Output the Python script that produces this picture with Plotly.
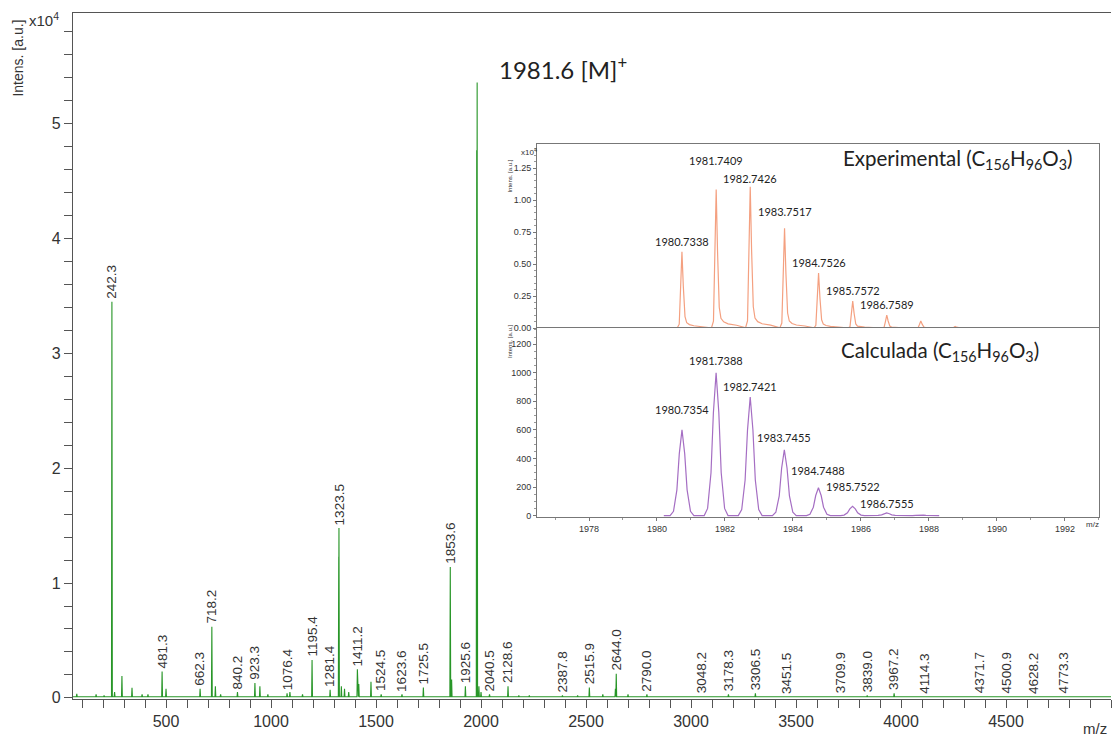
import plotly.graph_objects as go

# ---------------- main spectrum data (intensity in units of 1e4) ----------------
label_mz = [242.3, 481.3, 662.3, 718.2, 840.2, 923.3, 1076.4, 1195.4, 1281.4, 1323.5,
            1411.2, 1524.5, 1623.6, 1725.5, 1853.6, 1925.6, 2040.5, 2128.6, 2387.8,
            2515.9, 2644.0, 2790.0, 3048.2, 3178.3, 3306.5, 3451.5, 3709.9, 3839.0,
            3967.2, 4114.3, 4371.7, 4500.9, 4628.2, 4773.3]
label_int = [3.45, 0.23, 0.08, 0.62, 0.05, 0.13, 0.04, 0.33, 0.07, 1.48,
             0.25, 0.03, 0.03, 0.09, 1.14, 0.10, 0.03, 0.10, 0.02,
             0.09, 0.21, 0.03, 0.01, 0.03, 0.04, 0.01, 0.01, 0.02,
             0.04, 0.01, 0.01, 0.01, 0.01, 0.01]

main_peak_mz = 1981.6
main_peak_int = 5.36

other_mz = [75, 167, 205, 255, 290, 338, 386, 414, 500, 735, 760, 985, 947, 1090,
            1150, 1322.5, 1335, 1350, 1370, 1418, 1476, 1860, 1979.5, 1990, 2000,
            2180, 2230, 2580, 2640, 2700, 2460, 3370]
other_int = [0.035, 0.03, 0.02, 0.05, 0.19, 0.087, 0.03, 0.03, 0.08, 0.10, 0.03, 0.03, 0.10, 0.05,
             0.03, 1.23, 0.10, 0.08, 0.05, 0.12, 0.14, 0.16, 4.77, 0.10, 0.05,
             0.02, 0.02, 0.03, 0.08, 0.03, 0.02, 0.015]

# ---------------- inset data ----------------
exp_mz = [1980.7338, 1981.7409, 1982.7426, 1983.7517, 1984.7526, 1985.7572, 1986.7589, 1987.76, 1988.77]
exp_int = [0.595, 1.083, 1.104, 0.78, 0.43, 0.21, 0.10, 0.055, 0.012]   # x1e4
exp_labels = ["1980.7338", "1981.7409", "1982.7426", "1983.7517", "1984.7526", "1985.7572", "1986.7589"]

calc_mz = [1980.7354, 1981.7388, 1982.7421, 1983.7455, 1984.7488, 1985.7522, 1986.7555, 1987.76]
calc_int = [600, 1000, 830, 460, 195, 65, 18, 4]
calc_labels = ["1980.7354", "1981.7388", "1982.7421", "1983.7455", "1984.7488", "1985.7522", "1986.7555"]

# peak shapes (offset in m/z, relative height)
exp_shape_dx = [-0.14, -0.08, -0.04, 0.0, 0.04, 0.09, 0.14, 0.22, 0.35, 0.6, 0.9]
exp_shape_rel = [0.0, 0.05, 0.5, 1.0, 0.55, 0.15, 0.07, 0.045, 0.03, 0.02, 0.0]
calc_shape_dx = [-0.35, -0.25, -0.15, -0.08, 0.0, 0.08, 0.15, 0.25, 0.35]
calc_shape_rel = [0.0, 0.05, 0.3, 0.72, 1.0, 0.72, 0.3, 0.05, 0.0]

GREEN = "rgb(40,150,40)"
ORANGE = "rgb(244,160,128)"
PURPLE = "rgb(165,110,195)"
AX = "#555555"
TXT = "#333333"
FONT = "Liberation Sans, Arial, sans-serif"
CAL = "Lato, Open Sans, sans-serif"

# ---- build main stick spectrum
XMIN, XMAX = 57, 5000
BASE = 0.01
allp = sorted(list(zip(label_mz, label_int)) + [(main_peak_mz, main_peak_int)] + list(zip(other_mz, other_int)))
mx, my = [XMIN], [BASE]
for m, h in allp:
    mx += [m - 2, m, m + 2]
    my += [BASE, h, BASE]
mx.append(XMAX)
my.append(BASE)

# ---- inset curves
def profile(centers, heights, dx, rel, start, end):
    xs, ys = [start], [0.0]
    for c, h in zip(centers, heights):
        for d, r in zip(dx, rel):
            xs.append(c + d)
            ys.append(h * r)
    xs.append(end)
    ys.append(0.0)
    return xs, ys

ex, ey = profile(exp_mz, exp_int, exp_shape_dx, exp_shape_rel, 1976.4, 1993.0)
cx, cy = profile(calc_mz, calc_int, calc_shape_dx, calc_shape_rel, 1980.2, 1988.3)

fig = go.Figure()
fig.add_trace(go.Scatter(x=mx, y=my, mode="lines", line=dict(color=GREEN, width=1.1),
                         hoverinfo="skip", showlegend=False))
fig.add_trace(go.Scatter(x=ex, y=ey, mode="lines", line=dict(color=ORANGE, width=1.2),
                         xaxis="x2", yaxis="y2", showlegend=False))
fig.add_trace(go.Scatter(x=cx, y=cy, mode="lines", line=dict(color=PURPLE, width=1.2),
                         xaxis="x3", yaxis="y3", showlegend=False))

ann = []
# rotated peak labels in main plot
for m, h in zip(label_mz, label_int):
    ann.append(dict(x=m, y=h, xref="x", yref="y", text=f"{m:.1f}", textangle=-90,
                    showarrow=False, xanchor="center", yanchor="bottom", yshift=1,
                    font=dict(family=FONT, size=13.5, color=TXT)))
ann.append(dict(x=0.4085, y=0.92, xref="paper", yref="paper", text="1981.6 [M]<sup>+</sup>",
                showarrow=False, xanchor="left", yanchor="middle",
                font=dict(family=CAL, size=24, color="#222")))
# main axis texts
ann.append(dict(x=-0.053, y=0.935, xref="paper", yref="paper", text="Intens. [a.u.]", textangle=-90,
                showarrow=False, xanchor="center", yanchor="middle",
                font=dict(family=FONT, size=14, color=TXT)))
ann.append(dict(x=-0.044, y=0.99, xref="paper", yref="paper", text="x10<sup>4</sup>",
                showarrow=False, xanchor="left", yanchor="middle",
                font=dict(family=FONT, size=15, color=TXT)))
ann.append(dict(x=0.998, y=-0.043, xref="paper", yref="paper", text="m/z",
                showarrow=False, xanchor="right", yanchor="middle",
                font=dict(family=FONT, size=15, color=TXT)))

# inset labels
exp_shift = [2, 20, 0, 8, 2, 2, 2]
for m, h, t, s in zip(exp_mz, exp_int, exp_labels, exp_shift):
    ann.append(dict(x=m, y=h, xref="x2", yref="y2", text=t, showarrow=False,
                    xanchor="center", yanchor="bottom", yshift=s,
                    font=dict(family=CAL, size=11, color="#222")))
calc_shift = [12, 4, 2, 4, 9, 11, 1]
for m, h, t, s in zip(calc_mz, calc_int, calc_labels, calc_shift):
    ann.append(dict(x=m, y=h, xref="x3", yref="y3", text=t, showarrow=False,
                    xanchor="center", yanchor="bottom", yshift=s,
                    font=dict(family=CAL, size=11, color="#222")))
ann.append(dict(x=0.74, y=0.786, xref="paper", yref="paper",
                text="Experimental (C<sub>156</sub>H<sub>96</sub>O<sub>3</sub>)",
                showarrow=False, xanchor="left", yanchor="middle",
                font=dict(family=CAL, size=20.5, color="#222")))
ann.append(dict(x=0.738, y=0.506, xref="paper", yref="paper",
                text="Calculada (C<sub>156</sub>H<sub>96</sub>O<sub>3</sub>)",
                showarrow=False, xanchor="left", yanchor="middle",
                font=dict(family=CAL, size=20.5, color="#222")))
ann.append(dict(x=0.421, y=0.79, xref="paper", yref="paper", text="Intens. [a.u.]", textangle=-90,
                showarrow=False, font=dict(family=FONT, size=6, color=TXT)))
ann.append(dict(x=0.421, y=0.522, xref="paper", yref="paper", text="Intens. [a.u.]", textangle=-90,
                showarrow=False, font=dict(family=FONT, size=6, color=TXT)))
ann.append(dict(x=0.43, y=0.808, xref="paper", yref="paper", text="x10<sup>4</sup>",
                showarrow=False, xanchor="left", font=dict(family=FONT, size=8, color=TXT)))
ann.append(dict(x=0.99, y=0.245, xref="paper", yref="paper", text="m/z",
                showarrow=False, xanchor="right", font=dict(family=FONT, size=8, color=TXT)))

tickfont_main = dict(family=FONT, size=16, color=TXT)
tickfont_in = dict(family=FONT, size=9, color=TXT)

fig.update_layout(
    width=1112, height=740,
    margin=dict(l=73, r=1, t=13, b=41),
    paper_bgcolor="white", plot_bgcolor="white",
    showlegend=False,
    annotations=ann,
    xaxis=dict(range=[XMIN, XMAX], domain=[0, 1], tickmode="array",
               tickvals=[500, 1000, 1500, 2000, 2500, 3000, 3500, 4000, 4500],
               ticks="outside", ticklen=8, tickcolor=AX, showline=True, linecolor=AX, linewidth=1.2,
               mirror=True, showgrid=False, zeroline=False, tickfont=tickfont_main,
               minor=dict(dtick=100, tick0=0, ticks="outside", ticklen=8, tickcolor=AX)),
    yaxis=dict(range=[-0.01, 5.965], domain=[0, 1], dtick=1, ticks="outside", ticklen=8,
               tickcolor=AX, showline=True, linecolor=AX, linewidth=1.2, showgrid=False,
               zeroline=False, tickfont=tickfont_main,
               minor=dict(dtick=0.2, ticks="outside", ticklen=8, tickcolor=AX)),
    xaxis2=dict(domain=[0.447, 0.9884], range=[1976.47, 1993.0], anchor="y2", showticklabels=False,
                ticks="", showline=True, linecolor="#777", linewidth=1, mirror=True,
                showgrid=False, zeroline=False),
    yaxis2=dict(domain=[0.5408, 0.809], range=[0, 1.4375], anchor="x2", tickvals=[0, 0.25, 0.5, 0.75, 1.0, 1.25],
                tickformat=".2f", ticks="outside", ticklen=3, tickcolor="#777", showline=True,
                linecolor="#777", linewidth=1, mirror=True, showgrid=False, zeroline=False,
                tickfont=tickfont_in,
                minor=dict(dtick=0.05, ticks="outside", ticklen=2, tickcolor="#999")),
    xaxis3=dict(domain=[0.447, 0.9884], range=[1976.47, 1993.0], anchor="y3",
                tickvals=[1978, 1980, 1982, 1984, 1986, 1988, 1990, 1992], ticks="outside",
                ticklen=3, tickcolor="#777", showline=True, linecolor="#777", linewidth=1,
                mirror=True, showgrid=False, zeroline=False, tickfont=tickfont_in,
                minor=dict(dtick=1, ticks="outside", ticklen=2, tickcolor="#999")),
    yaxis3=dict(domain=[0.2653, 0.5408], range=[-10, 1313], anchor="x3", dtick=200, ticks="outside",
                ticklen=3, tickcolor="#777", showline=True, linecolor="#777", linewidth=1,
                mirror=True, showgrid=False, zeroline=False, tickfont=tickfont_in,
                minor=dict(dtick=50, ticks="outside", ticklen=2, tickcolor="#999")),
)

# remove the page's default body margin so the 1112x740 figure fills the window exactly
fig.write_html("out.html",
               config={"displayModeBar": False},
               post_script="document.documentElement.style.overflow='hidden';"
                           "document.body.style.margin='0';document.body.style.overflow='hidden';")
